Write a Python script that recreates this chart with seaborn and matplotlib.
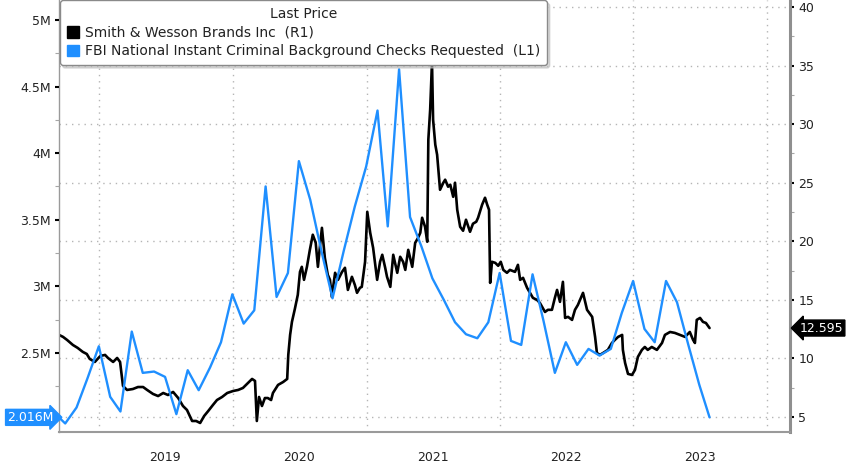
import matplotlib
matplotlib.use("Agg")
import matplotlib.pyplot as plt
import matplotlib.dates as mdates
import matplotlib.ticker as mticker
import matplotlib.transforms as mtrans
from matplotlib.patches import Patch
import numpy as np
import pandas as pd
import seaborn as sns

# FBI NICS background checks, monthly (millions), left axis
nics_months = pd.date_range("2018-08-31", periods=60, freq="ME")
nics_vals = [
    2.05, 1.97, 2.09, 2.31, 2.55,
    2.17, 2.06, 2.66, 2.35, 2.36, 2.32, 2.04, 2.37, 2.22, 2.39, 2.58, 2.94,
    2.72, 2.82, 3.75, 2.92, 3.10, 3.94, 3.65, 3.26, 2.91, 3.27, 3.60, 3.90,
    4.32, 3.45, 4.63, 3.52, 3.30, 3.06, 2.90, 2.73, 2.64, 2.61, 2.73, 3.10,
    2.59, 2.56, 3.09, 2.74, 2.35, 2.58, 2.41, 2.53, 2.48, 2.53, 2.80, 3.04,
    2.68, 2.58, 3.04, 2.88, 2.56, 2.26, 2.016,
]

# Smith & Wesson last price, right axis
swbi_dates = [
    "2018-09-13", "2018-09-24", "2018-10-05", "2018-10-21", "2018-11-03", "2018-11-17",
    "2018-11-28", "2018-12-06", "2018-12-20", "2019-01-04", "2019-01-17", "2019-01-25",
    "2019-02-08", "2019-02-19", "2019-02-27", "2019-03-07", "2019-03-18", "2019-04-03",
    "2019-04-17", "2019-05-01", "2019-05-12", "2019-05-28", "2019-06-11", "2019-06-25",
    "2019-07-08", "2019-07-22", "2019-08-05", "2019-08-18", "2019-08-29", "2019-09-12",
    "2019-09-23", "2019-10-04", "2019-10-15", "2019-10-26", "2019-11-08", "2019-11-19",
    "2019-12-03", "2019-12-17", "2020-01-02", "2020-01-16", "2020-01-29", "2020-02-09",
    "2020-02-23", "2020-03-02", "2020-03-07", "2020-03-13", "2020-03-21", "2020-03-29",
    "2020-04-06", "2020-04-15", "2020-04-20", "2020-05-04", "2020-05-18", "2020-05-29",
    "2020-06-01", "2020-06-06", "2020-06-11", "2020-06-19", "2020-06-27", "2020-07-03",
    "2020-07-08", "2020-07-14", "2020-07-22", "2020-07-30", "2020-08-07", "2020-08-15",
    "2020-08-21", "2020-08-27", "2020-09-01", "2020-09-09", "2020-09-17", "2020-09-23",
    "2020-09-28", "2020-10-07", "2020-10-15", "2020-10-26", "2020-11-03", "2020-11-11",
    "2020-11-22", "2020-11-30", "2020-12-06", "2020-12-14", "2020-12-19", "2020-12-28",
    "2021-01-03", "2021-01-08", "2021-01-11", "2021-01-19", "2021-01-30", "2021-02-07",
    "2021-02-13", "2021-02-21", "2021-02-26", "2021-03-07", "2021-03-15", "2021-03-26",
    "2021-04-03", "2021-04-11", "2021-04-17", "2021-04-25", "2021-05-06", "2021-05-14",
    "2021-05-22", "2021-05-28", "2021-06-02", "2021-06-10", "2021-06-16", "2021-06-19",
    "2021-06-24", "2021-06-29", "2021-07-02", "2021-07-08", "2021-07-13", "2021-07-21",
    "2021-07-30", "2021-08-04", "2021-08-12", "2021-08-18", "2021-08-26", "2021-08-31",
    "2021-09-06", "2021-09-14", "2021-09-22", "2021-09-30", "2021-10-11", "2021-10-19",
    "2021-10-28", "2021-11-02", "2021-11-13", "2021-11-21", "2021-11-27", "2021-12-02",
    "2021-12-05", "2021-12-10", "2021-12-19", "2021-12-27", "2022-01-03", "2022-01-10",
    "2022-01-20", "2022-01-28", "2022-02-11", "2022-02-19", "2022-02-25", "2022-03-05",
    "2022-03-16", "2022-03-24", "2022-04-01", "2022-04-12", "2022-04-20", "2022-05-04",
    "2022-05-12", "2022-05-23", "2022-05-31", "2022-06-06", "2022-06-14", "2022-06-22",
    "2022-06-28", "2022-07-06", "2022-07-17", "2022-07-25", "2022-08-02", "2022-08-10",
    "2022-08-16", "2022-08-27", "2022-09-10", "2022-09-18", "2022-09-23", "2022-10-01",
    "2022-10-10", "2022-10-23", "2022-11-03", "2022-11-11", "2022-11-20", "2022-12-01",
    "2022-12-03", "2022-12-09", "2022-12-17", "2022-12-28", "2023-01-05", "2023-01-13",
    "2023-01-24", "2023-02-01", "2023-02-09", "2023-02-20", "2023-03-06", "2023-03-20",
    "2023-03-28", "2023-04-11", "2023-04-24", "2023-05-08", "2023-05-22", "2023-06-04",
    "2023-06-13", "2023-06-18", "2023-06-23", "2023-07-02", "2023-07-10", "2023-07-18",
    "2023-07-28",
]
swbi_vals = [
    12.01, 11.84, 11.58, 11.15, 10.90, 10.56,
    10.38, 9.96, 9.70, 10.21, 10.30, 10.04,
    9.70, 10.04, 9.70, 7.65, 7.31, 7.39,
    7.56, 7.56, 7.31, 6.97, 6.79, 7.05,
    6.88, 7.14, 6.62, 5.94, 5.60, 4.66,
    4.66, 4.49, 5.09, 5.51, 6.03, 6.45,
    6.71, 7.05, 7.22, 7.31, 7.48, 7.82,
    8.25, 8.08, 4.66, 6.71, 5.94, 6.62,
    6.62, 6.45, 7.05, 7.74, 7.99, 8.25,
    10.30, 12.01, 13.12, 14.23, 15.43, 17.39,
    17.82, 16.71, 17.82, 19.27, 20.56, 19.87,
    17.82, 19.70, 21.15, 18.59, 17.14, 16.71,
    15.26, 17.31, 16.71, 17.39, 17.74, 15.85,
    16.97, 16.28, 15.60, 16.03, 16.11, 18.25,
    22.52, 21.41, 20.73, 19.44, 16.71, 18.25,
    18.85, 17.74, 16.97, 16.11, 18.85, 17.31,
    18.68, 18.25, 17.56, 19.27, 17.82, 19.87,
    20.30, 20.73, 22.01, 21.24, 19.96, 28.68,
    31.24, 35.34, 30.38, 28.25, 27.39, 24.40,
    25.00, 25.26, 24.66, 24.83, 23.80, 25.00,
    22.69, 21.24, 20.90, 21.84, 20.81, 21.50,
    21.67, 22.01, 23.12, 23.72, 23.12, 22.69,
    16.45, 18.25, 18.16, 17.91, 18.25, 17.56,
    17.31, 17.56, 17.39, 17.99, 16.71, 16.88,
    16.03, 15.60, 15.17, 15.00, 14.74, 13.97,
    14.15, 14.15, 15.17, 15.85, 14.83, 16.54,
    13.46, 13.55, 13.29, 14.15, 14.57, 15.17,
    15.60, 14.15, 13.55, 11.84, 10.47, 10.30,
    10.47, 10.73, 11.32, 11.58, 11.84, 12.01,
    10.73, 9.62, 8.68, 8.59, 9.02, 10.13,
    10.73, 10.98, 10.73, 10.98, 10.73, 11.32,
    12.01, 12.26, 12.18, 12.01, 11.84, 12.26,
    11.58, 11.32, 13.29, 13.46, 13.12, 13.03,
    12.595,
]
year_labels = ["2019", "2020", "2021", "2022", "2023"]

blue = "#1f8fff"
grey = "#a6a6a6"
txt = "#222222"

nics = pd.DataFrame({"date": nics_months, "checks": np.array(nics_vals) * 1e6})
nics.loc[nics.index[-1], "date"] = pd.Timestamp("2023-07-28")
swbi = pd.DataFrame({"date": pd.to_datetime(swbi_dates), "price": swbi_vals})

sns.set_style("white")
plt.rcParams["font.family"] = ["DejaVu Sans"]

fig = plt.figure(figsize=(8.48, 4.68), dpi=100)
ax = fig.add_axes([59 / 848, 1 - 432 / 468, 731 / 848, 432 / 468])
ax2 = ax.twinx()

# black price on host (right scale), blue checks on twin (left scale, on top)
sns.lineplot(data=swbi, x="date", y="price", ax=ax, color="black", linewidth=1.9)
sns.lineplot(data=nics, x="date", y="checks", ax=ax2, color=blue, linewidth=1.7)

ax.set_xlim(pd.Timestamp("2018-09-13"), pd.Timestamp("2024-03-04"))
ax.set_ylim(3.72, 40.6)
ax2.set_ylim(1.906e6, 5.15e6)
ax.set(xlabel="", ylabel="")
ax2.set(xlabel="", ylabel="")

# right axis (price)
ax.yaxis.tick_right()
ax.yaxis.set_major_locator(mticker.MultipleLocator(5))
ax.yaxis.set_minor_locator(mticker.MultipleLocator(2.5))
ax.tick_params(axis="y", which="major", direction="out", length=3, width=1.5,
               color="black", labelsize=9, labelcolor=txt, pad=3,
               left=False, right=True, labelleft=False, labelright=True)
ax.tick_params(axis="y", which="minor", direction="out", length=3, width=0.8,
               color=grey, left=False, right=True)

# left axis (checks)
ax2.yaxis.tick_left()
ax2.yaxis.set_major_locator(mticker.FixedLocator([2.5e6, 3e6, 3.5e6, 4e6, 4.5e6, 5e6]))
ax2.yaxis.set_minor_locator(mticker.MultipleLocator(0.25e6))
ax2.yaxis.set_major_formatter(mticker.FuncFormatter(lambda v, p: f"{v / 1e6:g}M"))
ax2.tick_params(axis="y", which="major", direction="out", length=3, width=1.5,
                color="black", labelsize=9, labelcolor=txt, pad=3,
                left=True, right=False, labelleft=True, labelright=False)
ax2.tick_params(axis="y", which="minor", direction="out", length=3, width=0.8,
                color=grey, left=True, right=False)

# x axis: year boundaries as long grey ticks, quarter minor ticks
ax.xaxis.set_major_locator(mdates.YearLocator())
ax.xaxis.set_major_formatter(mticker.NullFormatter())
ax.xaxis.set_minor_locator(mdates.MonthLocator(bymonth=[1, 4, 7, 10]))
ax.tick_params(axis="x", which="major", direction="out", length=27, width=1, color="#bdbdbd")
ax.tick_params(axis="x", which="minor", direction="out", length=3, width=0.8, color=grey)
trans = mtrans.blended_transform_factory(ax.transData, ax.transAxes)
for yl in year_labels:
    ax.text(pd.Timestamp(f"{yl}-07-01"), -0.06, yl, transform=trans, ha="center",
            va="center", fontsize=9, color=txt)

ax.grid(True, which="major", axis="both", linestyle=(0, (1, 3.5)), color="#b5b5b5", linewidth=1)

for s in ax2.spines.values():
    s.set_visible(False)
ax.spines["top"].set_visible(False)
ax.spines["left"].set_color("#9a9a9a")
ax.spines["left"].set_linewidth(1)
ax.spines["bottom"].set_color("#9a9a9a")
ax.spines["bottom"].set_linewidth(1.5)
ax.spines["right"].set_color("#8f8f8f")
ax.spines["right"].set_linewidth(2.2)

# last value tags
ax2.annotate("2.016M", xy=(0, nics_vals[-1] * 1e6), xycoords=("axes fraction", "data"),
             xytext=(-4, 0), textcoords="offset points", ha="right", va="center",
             fontsize=9, color="white", annotation_clip=False,
             bbox=dict(boxstyle="rarrow,pad=0.12", fc=blue, ec=blue))
ax.annotate("12.595", xy=(1, swbi_vals[-1]), xycoords=("axes fraction", "data"),
            xytext=(7, 0), textcoords="offset points", ha="left", va="center",
            fontsize=9, color="white", annotation_clip=False, zorder=20,
            bbox=dict(boxstyle="larrow,pad=0.12", fc="black", ec="black"))

handles = [Patch(facecolor="black", edgecolor="black"), Patch(facecolor=blue, edgecolor=blue)]
labels = ["Smith & Wesson Brands Inc  (R1)",
          "FBI National Instant Criminal Background Checks Requested  (L1)"]
leg = ax2.legend(handles, labels, title="Last Price", loc="upper left",
                 bbox_to_anchor=(0.001, 0.999), borderaxespad=0, fontsize=10,
                 title_fontsize=10, handlelength=0.9, handleheight=0.9,
                 handletextpad=0.4, labelspacing=0.32, borderpad=0.5,
                 frameon=True, fancybox=True, shadow={"color": "0.75", "alpha": 0.6},
                 framealpha=1)
leg.get_frame().set_edgecolor("#8a8a8a")
leg.get_frame().set_linewidth(1)
for t in leg.get_texts():
    t.set_color(txt)
leg.get_title().set_color(txt)
leg.set_zorder(10)

fig.savefig("out.png", dpi=100)
